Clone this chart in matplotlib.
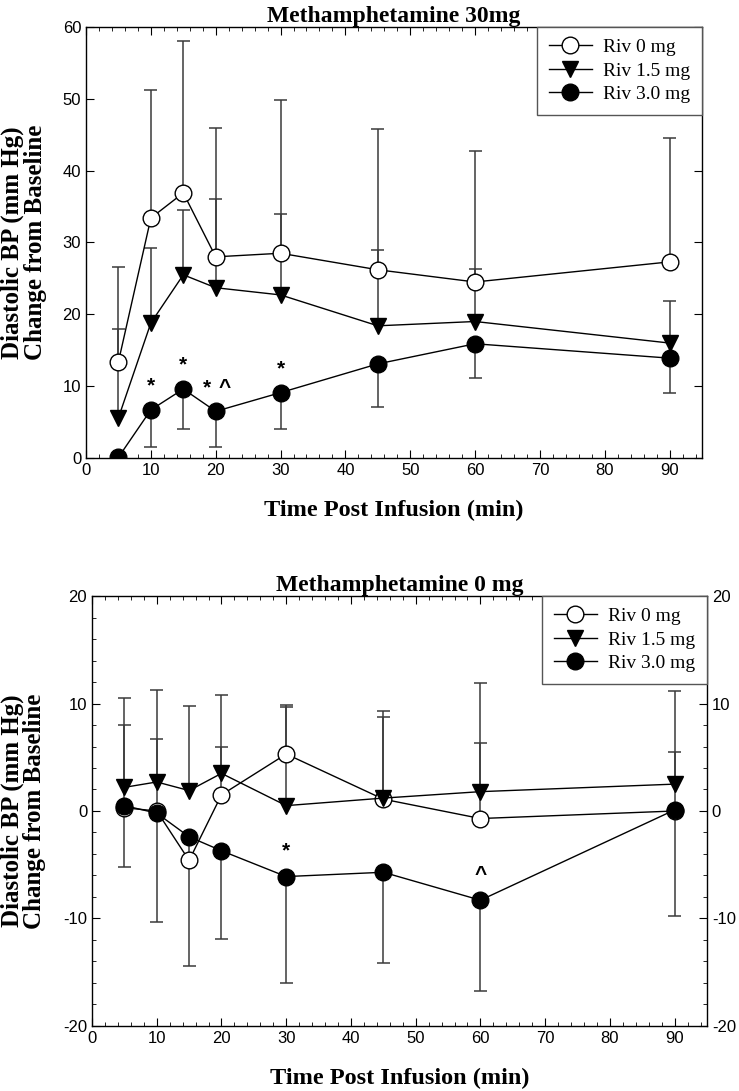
import numpy as np
import matplotlib.pyplot as plt
from matplotlib.ticker import MultipleLocator, NullLocator

plt.rcParams['axes.unicode_minus'] = False

# time points (min)
times = [5, 10, 15, 20, 30, 45, 60, 90]
labels = ['Riv 0 mg', 'Riv 1.5 mg', 'Riv 3.0 mg']

# Methamphetamine 30 mg
m30_riv0 = [13.4, 33.4, 36.9, 28.0, 28.5, 26.2, 24.5, 27.3]
m30_riv0_hi = [26.6, 51.2, 58.0, 45.9, 49.8, 45.8, 42.8, 44.5]
m30_riv15 = [5.6, 18.8, 25.5, 23.7, 22.7, 18.4, 19.0, 16.0]
m30_riv15_hi = [18.0, 29.2, 34.5, 36.1, 34.0, 29.0, 26.3, 21.8]
m30_riv3 = [0.1, 6.7, 9.6, 6.5, 9.1, 13.1, 15.9, 13.9]
m30_riv3_lo = [np.nan, 1.5, 4.1, 1.5, 4.0, 7.1, 11.1, 9.1]
m30_marks = [(10, '*'), (15, '*'), (18.6, '*'), (21.4, '^'), (30, '*')]

# Methamphetamine 0 mg
m0_riv0 = [0.3, 0.0, -4.6, 1.5, 5.3, 1.1, -0.7, 0.0]
m0_riv0_hi = [8.0, 6.7, np.nan, 6.0, 9.9, 8.7, 6.3, 5.5]
m0_riv15 = [2.2, 2.7, 1.9, 3.5, 0.5, 1.2, 1.8, 2.5]
m0_riv15_hi = [10.5, 11.3, 9.8, 10.8, 9.7, 9.3, 11.9, 11.2]
m0_riv3 = [0.5, -0.2, -2.4, -3.7, -6.1, -5.7, -8.3, 0.1]
m0_riv3_lo = [-5.2, -10.3, -14.4, -11.9, -16.0, -14.1, -16.7, -9.8]
m0_marks = [(30, '*'), (60, '^')]

serif = 'Liberation Serif'
sans = 'Liberation Sans'
ebar = '#3a3a3a'

fig = plt.figure(figsize=(7.39, 10.91), dpi=100)


def bars(ax, y, end):
    x = np.array(times, float)
    y = np.array(y, float)
    end = np.array(end, float)
    ok = ~np.isnan(end)
    ax.vlines(x[ok], y[ok], end[ok], color=ebar, lw=1.1, zorder=2)
    ax.hlines(end[ok], x[ok] - 1.0, x[ok] + 1.0, color=ebar, lw=1.1, zorder=2)


def panel(ax, title, r0, r0hi, r15, r15hi, r3, r3lo, marks, mark_off):
    bars(ax, r0, r0hi)
    bars(ax, r15, r15hi)
    bars(ax, r3, r3lo)
    ax.plot(times, r0, '-o', color='black', mfc='white', mec='black', ms=12,
            lw=1, mew=1, label=labels[0], zorder=3)
    ax.plot(times, r15, '-v', color='black', ms=12, lw=1, label=labels[1], zorder=4)
    ax.plot(times, r3, '-o', color='black', ms=12, lw=1, label=labels[2], zorder=5)
    for xm, s in marks:
        yv = r3[times.index(min(times, key=lambda t: abs(t - xm)))]
        ax.text(xm, yv + mark_off, s, ha='center', va='center',
                fontsize=15, fontweight='bold', family=sans)
    ax.set_title(title, fontsize=17, fontweight='bold', family=serif, pad=3)
    ax.set_xlim(0, 95)
    ax.xaxis.set_major_locator(MultipleLocator(10))
    ax.xaxis.set_minor_locator(MultipleLocator(2))
    ax.tick_params(which='both', direction='in', top=True, right=True,
                   labelsize=12)
    ax.tick_params(which='major', length=6)
    ax.tick_params(which='minor', length=3)
    ax.set_xticks(range(0, 91, 10))
    for lab in ax.get_xticklabels() + ax.get_yticklabels():
        lab.set_family(sans)
    ax.set_xlabel('Time Post Infusion (min)', fontsize=17.5, fontweight='bold',
                  family=serif, labelpad=16)
    ax.set_ylabel('Diastolic BP (mm Hg)\nChange from Baseline', fontsize=18,
                  fontweight='bold', family=serif, linespacing=0.95)
    leg = ax.legend(loc='upper right', prop={'family': serif, 'size': 14},
                    fancybox=False, framealpha=1, edgecolor='#555555',
                    borderaxespad=0, handlelength=2.2, labelspacing=0.3,
                    borderpad=0.6, handletextpad=0.6)
    leg.get_frame().set_linewidth(1)
    for sp in ax.spines.values():
        sp.set_linewidth(1)


ax1 = fig.add_axes([0.1164, 0.5802, 0.8336, 0.3951])
panel(ax1, 'Methamphetamine 30mg', m30_riv0, m30_riv0_hi, m30_riv15,
      m30_riv15_hi, m30_riv3, m30_riv3_lo, m30_marks, 3.3)
ax1.set_ylim(0, 60)
ax1.yaxis.set_major_locator(MultipleLocator(10))
ax1.yaxis.set_minor_locator(NullLocator())
for lab in ax1.get_yticklabels():
    lab.set_family(sans)
ax1.yaxis.set_label_coords(-0.064, 0.5)

ax2 = fig.add_axes([0.1245, 0.0596, 0.8322, 0.3941])
panel(ax2, 'Methamphetamine 0 mg', m0_riv0, m0_riv0_hi, m0_riv15,
      m0_riv15_hi, m0_riv3, m0_riv3_lo, m0_marks, 2.4)
ax2.set_ylim(-20, 20)
ax2.yaxis.set_major_locator(MultipleLocator(10))
ax2.yaxis.set_minor_locator(MultipleLocator(2))
ax2.tick_params(axis='y', labelright=True)
for lab in ax2.get_yticklabels():
    lab.set_family(sans)
ax2.yaxis.set_label_coords(-0.074, 0.5)

fig.savefig('out.png', dpi=100)
